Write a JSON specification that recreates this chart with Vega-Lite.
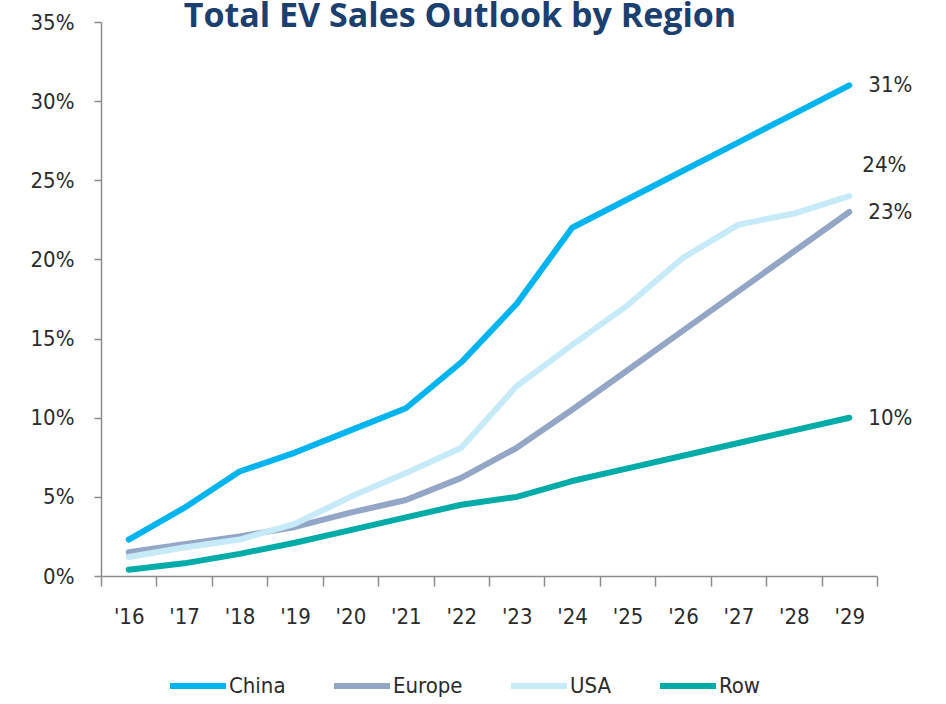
{
  "$schema": "https://vega.github.io/schema/vega-lite/v6.json",
  "width": 776,
  "height": 554,
  "autosize": {"type": "none"},
  "padding": {"left": 101, "top": 22, "right": 69, "bottom": 128},
  "background": "white",
  "title": {
    "text": "Total  EV Sales Outlook  by Region",
    "font": "Open Sans",
    "fontWeight": "bold",
    "fontSize": 34,
    "color": "#1B3F6E",
    "anchor": "middle",
    "dx": -29,
    "offset": -57,
    "baseline": "bottom"
  },
  "config": {
    "view": {"stroke": null},
    "axis": {"grid": false}
  },
  "data": {
    "values": [
      {"year": "'16", "region": "China", "value": 0.023},
      {"year": "'17", "region": "China", "value": 0.043},
      {"year": "'18", "region": "China", "value": 0.066},
      {"year": "'19", "region": "China", "value": 0.078},
      {"year": "'20", "region": "China", "value": 0.092},
      {"year": "'21", "region": "China", "value": 0.106},
      {"year": "'22", "region": "China", "value": 0.135},
      {"year": "'23", "region": "China", "value": 0.172},
      {"year": "'24", "region": "China", "value": 0.220},
      {"year": "'25", "region": "China", "value": 0.238},
      {"year": "'26", "region": "China", "value": 0.256},
      {"year": "'27", "region": "China", "value": 0.274},
      {"year": "'28", "region": "China", "value": 0.292},
      {"year": "'29", "region": "China", "value": 0.310},
      {"year": "'16", "region": "Europe", "value": 0.015},
      {"year": "'17", "region": "Europe", "value": 0.020},
      {"year": "'18", "region": "Europe", "value": 0.025},
      {"year": "'19", "region": "Europe", "value": 0.031},
      {"year": "'20", "region": "Europe", "value": 0.040},
      {"year": "'21", "region": "Europe", "value": 0.048},
      {"year": "'22", "region": "Europe", "value": 0.062},
      {"year": "'23", "region": "Europe", "value": 0.081},
      {"year": "'24", "region": "Europe", "value": 0.105},
      {"year": "'25", "region": "Europe", "value": 0.130},
      {"year": "'26", "region": "Europe", "value": 0.155},
      {"year": "'27", "region": "Europe", "value": 0.180},
      {"year": "'28", "region": "Europe", "value": 0.205},
      {"year": "'29", "region": "Europe", "value": 0.230},
      {"year": "'16", "region": "USA", "value": 0.012},
      {"year": "'17", "region": "USA", "value": 0.018},
      {"year": "'18", "region": "USA", "value": 0.023},
      {"year": "'19", "region": "USA", "value": 0.033},
      {"year": "'20", "region": "USA", "value": 0.050},
      {"year": "'21", "region": "USA", "value": 0.065},
      {"year": "'22", "region": "USA", "value": 0.081},
      {"year": "'23", "region": "USA", "value": 0.120},
      {"year": "'24", "region": "USA", "value": 0.146},
      {"year": "'25", "region": "USA", "value": 0.171},
      {"year": "'26", "region": "USA", "value": 0.201},
      {"year": "'27", "region": "USA", "value": 0.222},
      {"year": "'28", "region": "USA", "value": 0.229},
      {"year": "'29", "region": "USA", "value": 0.240},
      {"year": "'16", "region": "Row", "value": 0.004},
      {"year": "'17", "region": "Row", "value": 0.008},
      {"year": "'18", "region": "Row", "value": 0.014},
      {"year": "'19", "region": "Row", "value": 0.021},
      {"year": "'20", "region": "Row", "value": 0.029},
      {"year": "'21", "region": "Row", "value": 0.037},
      {"year": "'22", "region": "Row", "value": 0.045},
      {"year": "'23", "region": "Row", "value": 0.050},
      {"year": "'24", "region": "Row", "value": 0.060},
      {"year": "'25", "region": "Row", "value": 0.068},
      {"year": "'26", "region": "Row", "value": 0.076},
      {"year": "'27", "region": "Row", "value": 0.084},
      {"year": "'28", "region": "Row", "value": 0.092},
      {"year": "'29", "region": "Row", "value": 0.100}
    ]
  },
  "encoding": {
    "x": {
      "field": "year",
      "type": "ordinal",
      "sort": null,
      "bandPosition": 0.5,
      "scale": {"type": "band", "paddingInner": 0, "paddingOuter": 0},
      "axis": {
        "title": null,
        "labelAngle": 0,
        "tickBand": "extent",
        "tickSize": 10,
        "tickColor": "#8C8C8C",
        "domainColor": "#8C8C8C",
        "domainWidth": 1.5,
        "tickWidth": 1.5,
        "labelPadding": 20,
        "labelFont": "DejaVu Sans Condensed, Liberation Sans",
        "labelFontSize": 22,
        "labelColor": "#2B2B2B"
      }
    },
    "y": {
      "field": "value",
      "type": "quantitative",
      "scale": {"domain": [0, 0.35], "nice": false},
      "axis": {
        "title": null,
        "values": [0, 0.05, 0.1, 0.15, 0.2, 0.25, 0.3, 0.35],
        "format": ".0%",
        "tickSize": 7,
        "tickColor": "#8C8C8C",
        "domainColor": "#8C8C8C",
        "domainWidth": 1.5,
        "tickWidth": 1.5,
        "labelPadding": 20,
        "labelFont": "DejaVu Sans Condensed, Liberation Sans",
        "labelFontSize": 22,
        "labelColor": "#2B2B2B"
      }
    }
  },
  "layer": [
    {
      "mark": {"type": "line", "strokeWidth": 6, "strokeCap": "round", "strokeJoin": "round"},
      "encoding": {
        "color": {
          "field": "region",
          "type": "nominal",
          "scale": {
            "domain": ["China", "Europe", "USA", "Row"],
            "range": ["#00B4EF", "#94A6C6", "#C6EAF8", "#00ABA8"]
          },
          "legend": {
            "title": null,
            "orient": "none",
            "direction": "horizontal",
            "legendX": 66,
            "legendY": 633,
            "symbolType": "stroke",
            "symbolSize": 3136,
            "symbolStrokeWidth": 6,
            "labelOffset": 0,
            "columnPadding": 36,
            "labelFont": "DejaVu Sans Condensed, Liberation Sans",
            "labelFontSize": 22,
            "labelColor": "#2B2B2B"
          }
        }
      }
    },
    {
      "transform": [
        {"filter": "datum.year === \"'29\" && datum.region !== 'USA'"}
      ],
      "mark": {
        "type": "text",
        "align": "left",
        "baseline": "middle",
        "dx": 19,
        "font": "DejaVu Sans Condensed, Liberation Sans",
        "fontSize": 22,
        "color": "#2B2B2B"
      },
      "encoding": {
        "text": {"field": "value", "type": "quantitative", "format": ".0%"}
      }
    },
    {
      "transform": [
        {"filter": "datum.year === \"'29\" && datum.region === 'USA'"}
      ],
      "mark": {
        "type": "text",
        "align": "left",
        "baseline": "middle",
        "dx": 13,
        "dy": -31,
        "font": "DejaVu Sans Condensed, Liberation Sans",
        "fontSize": 22,
        "color": "#2B2B2B"
      },
      "encoding": {
        "text": {"field": "value", "type": "quantitative", "format": ".0%"}
      }
    }
  ]
}
